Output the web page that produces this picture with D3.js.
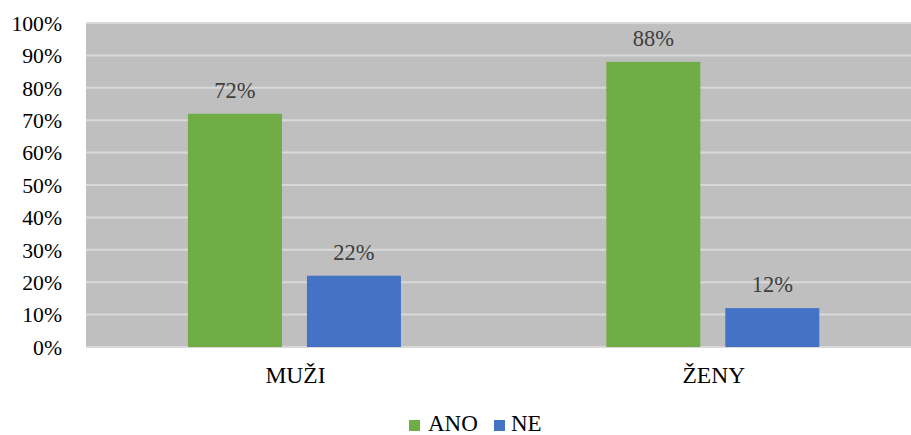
<!DOCTYPE html>
<html>
<head>
<meta charset="utf-8">
<script src="https://cdn.jsdelivr.net/npm/d3@7"></script>
<style>
  html, body { margin: 0; padding: 0; background: #ffffff; }
  svg { display: block; }
</style>
</head>
<body>
<svg id="chart" width="911" height="435"></svg>
<script>
// Survey answers by gender (share of respondents)
const categories = ["MUŽI", "ŽENY"];
const seriesNames = ["ANO", "NE"];
const valuesANO = [0.72, 0.88];
const valuesNE = [0.22, 0.12];
const yTicks = [0, 0.1, 0.2, 0.3, 0.4, 0.5, 0.6, 0.7, 0.8, 0.9, 1.0];

const colors = { ANO: "#70ad47", NE: "#4472c4" };
const seriesValues = { ANO: valuesANO, NE: valuesNE };
const SERIF = "'Liberation Serif'";

const plot = { left: 86, right: 911, top: 23, bottom: 347 };

const svg = d3.select("#chart");

const y = d3.scaleLinear().domain([0, 1]).range([plot.bottom, plot.top]);
const x0 = d3.scaleBand().domain(categories).range([85.25, 922]);
const groupW = 213;
const x1 = d3.scaleBand().domain(seriesNames).range([0, groupW]).paddingInner(25 / 119);
const groupOffset = (x0.bandwidth() - groupW) / 2;

// plot background
svg.append("rect")
  .attr("x", plot.left).attr("y", plot.top)
  .attr("width", plot.right - plot.left).attr("height", plot.bottom - plot.top)
  .attr("fill", "#bfbfbf");

// horizontal gridlines
svg.append("g").selectAll("line").data(yTicks).join("line")
  .attr("x1", plot.left).attr("x2", plot.right)
  .attr("y1", d => y(d)).attr("y2", d => y(d))
  .attr("stroke", "#d9d9d9").attr("stroke-width", 2);

// y axis labels
const yAxis = d3.axisLeft(y).tickValues(yTicks).tickFormat(d3.format(".0%")).tickSize(0).tickPadding(0);
const gy = svg.append("g").attr("transform", `translate(62,0)`).call(yAxis)
  .attr("font-size", 21.7);
gy.select(".domain").remove();
gy.selectAll("text")
  .style("font-family", SERIF)
  .attr("fill", "#000").attr("dy", "0.34em");

// bars and value labels
const groups = svg.append("g").selectAll("g").data(categories).join("g")
  .attr("transform", c => `translate(${x0(c) + groupOffset},0)`);

groups.each(function (c, i) {
  const g = d3.select(this);
  seriesNames.forEach(s => {
    const v = seriesValues[s][i];
    g.append("rect")
      .attr("x", x1(s)).attr("width", x1.bandwidth())
      .attr("y", y(v)).attr("height", y(0) - y(v))
      .attr("fill", colors[s]);
    g.append("text")
      .attr("x", x1(s) + x1.bandwidth() / 2)
      .attr("y", y(v) - 16)
      .attr("text-anchor", "middle")
      .style("font-family", SERIF)
      .attr("font-size", 22.5).attr("fill", "#404040")
      .text(d3.format(".0%")(v));
  });
});

// category labels
const xAxis = d3.axisBottom(x0).tickSize(0).tickPadding(0);
const gx = svg.append("g").attr("transform", `translate(${groupOffset + groupW / 2 - x0.bandwidth() / 2 + 1},383)`).call(xAxis)
  .attr("font-size", 23.5);
gx.select(".domain").remove();
gx.selectAll("text")
  .style("font-family", SERIF)
  .attr("fill", "#000").attr("dy", 0);

// legend
const legendItems = [
  { name: "ANO", sx: 409, tx: 428 },
  { name: "NE", sx: 494, tx: 511 }
];
const lg = svg.append("g");
legendItems.forEach(it => {
  lg.append("rect").attr("x", it.sx).attr("y", 420).attr("width", 11).attr("height", 11)
    .attr("fill", colors[it.name]);
  lg.append("text").attr("x", it.tx).attr("y", 431)
    .style("font-family", SERIF)
    .attr("font-size", 23).attr("fill", "#000").text(it.name);
});
</script>
</body>
</html>
